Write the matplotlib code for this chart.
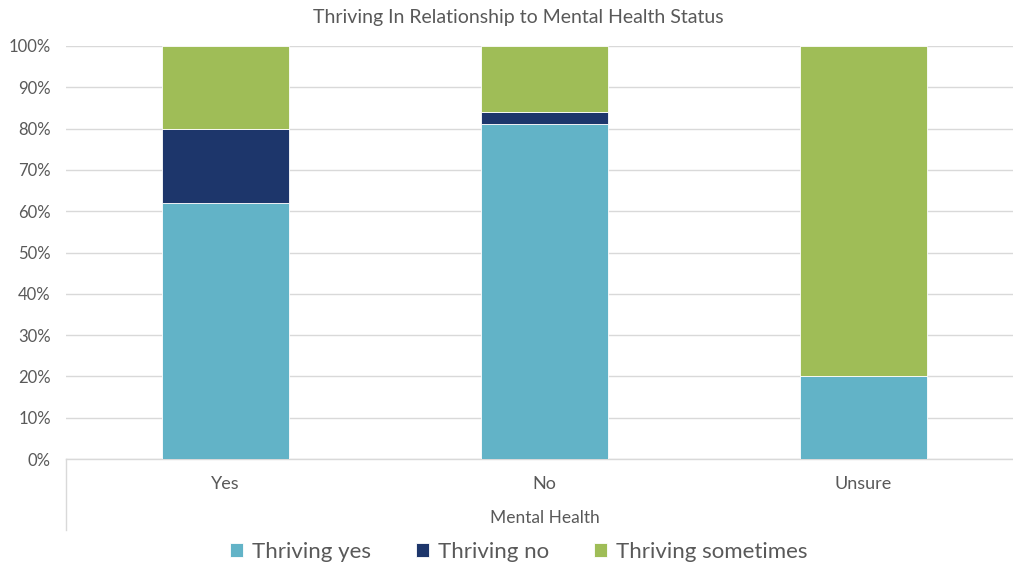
import numpy as np
import matplotlib.pyplot as plt
from matplotlib.lines import Line2D
from matplotlib.ticker import PercentFormatter

plt.rcParams['font.family'] = ['Lato', 'DejaVu Sans']

categories = ['Yes', 'No', 'Unsure']
thriving_yes = [62, 81, 20]
thriving_no = [18, 3, 0]
thriving_sometimes = [20, 16, 80]

series = [
    ('Thriving yes', thriving_yes, '#62B3C7'),
    ('Thriving no', thriving_no, '#1D366B'),
    ('Thriving sometimes', thriving_sometimes, '#9FBD57'),
]

text_color = '#595959'
grid_color = '#D9D9D9'

fig = plt.figure(figsize=(10.13, 5.69), dpi=100)
ax = fig.add_axes([66/1013, 110/569, 957/1013, 413/569])

x = np.arange(len(categories))
bottom = np.zeros(len(categories))
for name, vals, color in series:
    ax.bar(x, vals, width=0.40, bottom=bottom, color=color, label=name,
           edgecolor='white', linewidth=0.6, zorder=3)
    bottom += np.array(vals)

ax.set_xlim(-0.5, len(categories) - 0.5)
ax.set_ylim(0, 100)
ax.set_yticks(np.arange(0, 101, 10))
ax.yaxis.set_major_formatter(PercentFormatter(decimals=0))
ax.set_xticks(x)
ax.set_xticklabels(categories)

ax.grid(axis='y', color=grid_color, linewidth=1.0, zorder=0)
for s in ['top', 'right', 'left']:
    ax.spines[s].set_visible(False)
ax.spines['bottom'].set_color(grid_color)
ax.spines['bottom'].set_linewidth(1.0)
ax.tick_params(axis='both', length=0, colors=text_color)
ax.tick_params(axis='x', pad=12, labelsize=13)
ax.tick_params(axis='y', pad=11, labelsize=12)

# category axis box line below the plot
ax.add_line(Line2D([0, 0], [0, -71/413], transform=ax.transAxes,
                   color=grid_color, linewidth=1.0, clip_on=False))

fig.text(518/1013, 1 - 17/569, 'Thriving In Relationship to Mental Health Status',
         ha='center', va='center', color=text_color, fontsize=14)
fig.text(545/1013, 1 - 518/569, 'Mental Health', ha='center', va='center',
         color=text_color, fontsize=12.5)

fig.legend(loc='center', bbox_to_anchor=(0.512, 1 - 552/569), ncol=3,
           frameon=False, fontsize=16, labelcolor=text_color,
           handlelength=0.6, handleheight=0.6, handletextpad=0.4,
           columnspacing=2.0)

fig.savefig('out.png', dpi=100)
